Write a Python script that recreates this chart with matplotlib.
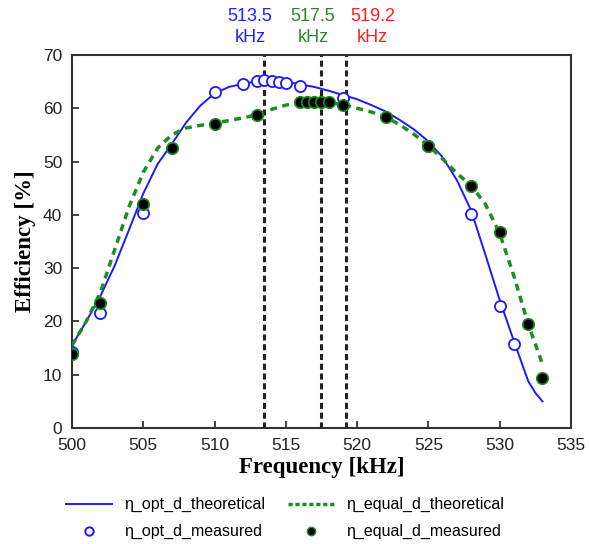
import matplotlib
matplotlib.use("Agg")
import matplotlib.pyplot as plt
from matplotlib.lines import Line2D

# Theoretical curves
opt_theo_x = [500, 501, 502, 503, 504, 505, 506, 507, 508, 509, 510, 511, 512, 513, 514,
              515, 516, 517, 518, 519, 520, 521, 522, 523, 524, 525, 526, 527, 528, 529,
              530, 531, 532, 532.5, 533]
opt_theo_y = [15.5, 20.0, 24.8, 30.5, 37.2, 44.0, 49.5, 53.3, 57.3, 60.5, 62.8, 64.0, 64.6,
              65.1, 65.2, 65.0, 64.5, 64.0, 63.3, 62.5, 61.7, 60.6, 59.4, 57.8, 56.0, 53.8,
              50.8, 46.5, 40.8, 32.5, 24.0, 16.3, 8.8, 6.6, 5.0]

equal_theo_x = [500, 501, 502, 503, 504, 505, 506, 507, 508, 509, 510, 511, 512, 513, 514,
                515, 516, 517, 518, 519, 520, 521, 522, 523, 524, 525, 526, 527, 528, 529,
                530, 531, 532, 533]
equal_theo_y = [15.5, 20.0, 25.5, 33.5, 41.5, 48.0, 52.5, 55.0, 56.3, 56.8, 57.2, 57.7, 58.2,
                58.8, 59.8, 60.6, 61.0, 61.1, 61.1, 60.7, 60.0, 59.3, 58.4, 56.9, 55.1, 53.0,
                50.5, 47.8, 45.5, 42.0, 36.5, 28.5, 19.5, 12.0]

# Measured points
opt_meas_x = [500, 502, 505, 510, 512, 513, 513.5, 514, 514.5, 515, 516, 519, 525, 528, 530, 531]
opt_meas_y = [14.3, 21.6, 40.3, 63.0, 64.6, 65.2, 65.3, 65.2, 65.0, 64.8, 64.2, 61.9, 52.9,
              40.2, 22.9, 15.8]

equal_meas_x = [500, 502, 505, 507, 510, 513, 516, 516.5, 517, 517.5, 518, 519, 522, 525,
                528, 530, 532, 533]
equal_meas_y = [13.8, 23.5, 42.0, 52.6, 57.0, 58.8, 61.1, 61.1, 61.1, 61.1, 61.1, 60.6, 58.4,
                53.0, 45.5, 36.8, 19.5, 9.4]

vlines_x = [513.5, 517.5, 519.2]
vline_labels = ["513.5\nkHz", "517.5\nkHz", "519.2\nkHz"]
vline_colors = ["#2020ff", "#2a8a2a", "#ff2020"]
label_x = [512.5, 516.9, 521.1]

x_ticks = [500, 505, 510, 515, 520, 525, 530, 535]
y_ticks = [0, 10, 20, 30, 40, 50, 60, 70]

fig = plt.figure(figsize=(5.89, 5.44), dpi=100)
ax = fig.add_axes([0.1222, 0.2132, 0.8472, 0.6857])

blue = "#1a1aff"
green = "#1e8c1e"

ax.plot(opt_theo_x, opt_theo_y, color=blue, lw=1.4, zorder=3)
ax.plot(equal_theo_x, equal_theo_y, color=green, lw=2.5, ls=(0, (2, 1.6)), zorder=3)
for x in vlines_x:
    ax.axvline(x, color="#222222", lw=2.2, ls=(0, (2, 1.2)), zorder=4)
ax.plot(opt_meas_x, opt_meas_y, ls="none", marker="o", ms=8, mfc="white", mec=blue,
        mew=1.3, zorder=5)
ax.plot(equal_meas_x, equal_meas_y, ls="none", marker="o", ms=8.3, mfc="black", mec=green,
        mew=1.2, zorder=6)

ax.set_xlim(500, 535)
ax.set_ylim(0, 70)
ax.set_xticks(x_ticks)
ax.set_yticks(y_ticks)
ax.tick_params(direction="in", length=5, width=1.2, labelsize=12.5, top=False, right=False,
               colors="#222222")
ax.tick_params(axis="x", pad=7)
ax.tick_params(axis="y", pad=7)
for lab in ax.get_xticklabels() + ax.get_yticklabels():
    lab.set_family("Liberation Sans")
for s in ax.spines.values():
    s.set_linewidth(1.5)
    s.set_color("#333333")

ax.set_xlabel("Frequency [kHz]", family="Liberation Serif", fontweight="bold", fontsize=16.5,
              labelpad=3)
ax.set_ylabel("Efficiency [%]", family="Liberation Serif", fontweight="bold", fontsize=16.5,
              labelpad=5)

for lx, txt, c in zip(label_x, vline_labels, vline_colors):
    ax.text(lx, 1.025, txt, transform=ax.get_xaxis_transform(), ha="center", va="bottom",
            color=c, fontsize=13, family="Liberation Sans", linespacing=1.3)

handles = [
    Line2D([], [], color=blue, lw=1.4),
    Line2D([], [], ls="none", marker="o", ms=6, mfc="white", mec=blue, mew=1.4),
    Line2D([], [], color=green, lw=2.5, ls=(0, (1.2, 0.8))),
    Line2D([], [], ls="none", marker="o", ms=6, mfc="black", mec=green, mew=1.0),
]
labels = ["η_opt_d_theoretical", "η_opt_d_measured", "η_equal_d_theoretical",
          "η_equal_d_measured"]
fig.legend(handles, labels, ncol=2, loc="lower center", bbox_to_anchor=(0.484, -0.018),
           frameon=False, prop={"family": "Liberation Sans", "size": 11.5},
           handlelength=2.9, columnspacing=1.4, labelspacing=0.75, handletextpad=0.75)

fig.savefig("out.png", dpi=100)
